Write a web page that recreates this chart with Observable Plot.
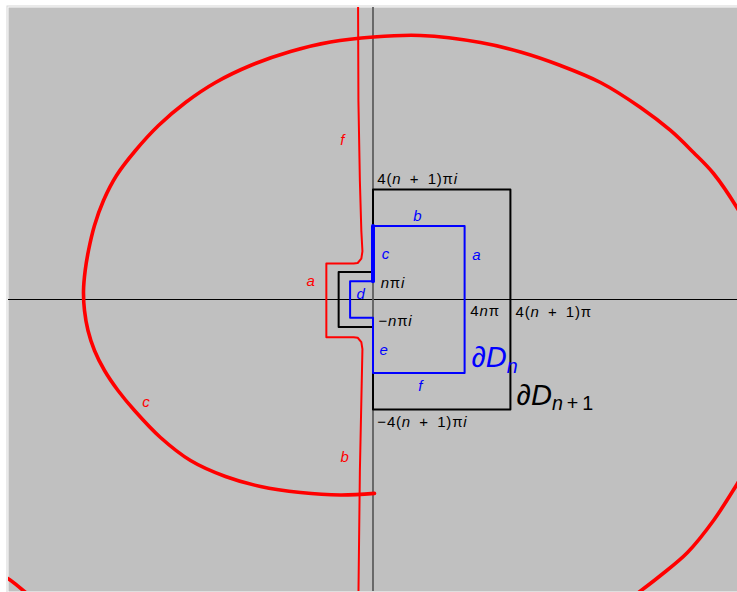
<!DOCTYPE html>
<html>
<head>
<meta charset="utf-8">
<script src="https://cdn.jsdelivr.net/npm/d3@7"></script>
<script src="https://cdn.jsdelivr.net/npm/@observablehq/plot@0.6"></script>
<style>
  body { margin: 0; background: #fff; }
  #chart svg { display: block; }
</style>
</head>
<body>
<div id="chart"></div>
<script>
const PI = Math.PI;
const n = 2;

// Contours ∂D_n and ∂D_{n+1} (corner values in multiples of π)
const dnOuter = 4 * n;         // ±4nπ
const dnIndent = n;            // ±nπ indentation around the origin
const dn1Outer = 4 * (n + 1);  // ±4(n+1)π
const dn1Indent = n + 1;       // ±(n+1)π

const dnPath = [
  [dnOuter, -dnOuter], [dnOuter, dnOuter], [0, dnOuter], [0, dnIndent],
  [-dnIndent, dnIndent], [-dnIndent, -dnIndent], [0, -dnIndent], [0, -dnOuter], [dnOuter, -dnOuter]
];
const dnSideC = [[0, dnOuter], [0, dnIndent]];
const dn1Path = [
  [dn1Outer, -dn1Outer], [dn1Outer, dn1Outer], [0, dn1Outer], [0, dn1Indent],
  [-dn1Indent, dn1Indent], [-dn1Indent, -dn1Indent], [0, -dn1Indent], [0, -dn1Outer], [dn1Outer, -dn1Outer]
];

// Image of side c (large loop) and its continuation
const imageC = [
  [0.41, -66.4], [-8.92, -66.95], [-19.89, -66.10], [-30.86, -64.04], [-40.47, -60.62],
  [-50.07, -55.14], [-58.30, -47.26], [-65.43, -38.01], [-69.96, -31.16], [-73.66, -24.32],
  [-76.41, -17.47], [-78.19, -10.62], [-79.15, -3.77], [-79.42, 3.08], [-78.96, 9.93],
  [-78.05, 16.78], [-76.41, 25.34], [-73.94, 33.90], [-70.37, 42.47], [-65.16, 51.03],
  [-58.85, 59.59], [-51.44, 67.47], [-43.21, 74.32], [-33.61, 80.14], [-22.63, 84.93],
  [-11.66, 88.18], [0.14, 89.90], [13.03, 90.41], [29.49, 88.01], [40.47, 84.76],
  [51.44, 80.14], [62.41, 74.32], [73.39, 65.75], [81.62, 57.88], [87.93, 50.34],
  [93.42, 43.15], [100.0, 31.16], [106.31, 16.78]
];
const imageCRight = [[106.3, -50.0], [100, -63.0], [93.42, -75.68], [86.28, -86.64], [78.88, -94.52], [72.84, -100.34], [67.9, -104.8]];
const imageCLeft = [[-105.2, -92.8], [-100.3, -95.5], [-95.3, -100.3], [-91.5, -104]];

// Image of sides f, a, b (near-vertical line with a bracket round the origin)
const imageFAB = [
  [-4.1, 102], [-4.0, 68.1], [-3.6, 40.6], [-3.2, 23.5], [-2.9, 16.5], [-3.2, 14.0], [-4.2, 12.5],
  [-5.3, 12.3], [-12.8, 12.3], [-12.8, -12.9], [-5.3, -12.9], [-4.2, -13.1], [-3.2, -14.6],
  [-2.9, -17], [-3.2, -34.8], [-3.6, -58.8], [-4.0, -102]
];

// Side names on ∂D_n
const sideNames = ["b", "a", "c", "d", "e", "f"];
const sideX = [12.2, 28.4, 3.4, -3.4, 2.9, 13.0];
const sideY = [28.6, 15.3, 15.6, 1.9, -17.3, -29.7];

// Names of the image curves
const imageNames = ["f", "a", "c", "b"];
const imageX = [-8.4, -17.1, -62.3, -7.8];
const imageY = [54.7, 6.3, -35.2, -54.0];

// Corner values
const cornerText = ["4(n\u2002+\u20021)πi", "nπi", "−nπi", "4nπ", "4(n\u2002+\u20021)π", "−4(n\u2002+\u20021)πi"];
const cornerX = [1.2, 2.1, 1.5, 26.7, 39.1, 1.2];
const cornerY = [41.3, 5.7, -7.4, -3.9, -4.3, -42.0];

// Contour names
const contourText = ["∂D_n", "∂D_n\u2009+\u20091"];
const contourX = [27.0, 39.4];
const contourY = [-20.1, -32.8];
const contourColor = ["#0000ff", "#000000"];

const pi = (pts) => pts.map(([a, b]) => [a * PI, b * PI]);
const table = (t, xs, ys) => t.map((s, i) => ({s, x: xs[i], y: ys[i]}));

const plot = Plot.plot({
  width: 737,
  height: 592,
  marginLeft: 8,
  marginRight: 0,
  marginTop: 7,
  marginBottom: 1,
  x: {domain: [-100, 100], axis: null},
  y: {domain: [-100, 100], axis: null},
  style: {fontFamily: "'Liberation Sans', Arial, Helvetica, sans-serif", background: "#fff"},
  marks: [
    Plot.frame({stroke: "#d6d6d6", strokeWidth: 1, inset: -1.5}),
    Plot.frame({fill: "#c0c0c0", stroke: "none"}),
    Plot.ruleY([0], {stroke: "#000", strokeWidth: 1}),
    Plot.ruleX([0], {stroke: "#5f5f5f", strokeWidth: 1.8}),
    Plot.line(imageFAB, {x: d => d[0], y: d => d[1], stroke: "#ff0000", strokeWidth: 2, clip: true}),
    Plot.line(imageC, {x: d => d[0], y: d => d[1], stroke: "#ff0000", strokeWidth: 3.6, curve: "catmull-rom", clip: true}),
    Plot.line(imageCRight, {x: d => d[0], y: d => d[1], stroke: "#ff0000", strokeWidth: 3.6, curve: "catmull-rom", clip: true}),
    Plot.line(imageCLeft, {x: d => d[0], y: d => d[1], stroke: "#ff0000", strokeWidth: 3.6, curve: "catmull-rom", clip: true}),
    Plot.line(pi(dn1Path), {x: d => d[0], y: d => d[1], stroke: "#000", strokeWidth: 2}),
    Plot.line(pi(dnPath), {x: d => d[0], y: d => d[1], stroke: "#0000ff", strokeWidth: 2}),
    Plot.line(pi(dnSideC), {x: d => d[0], y: d => d[1], stroke: "#0000ff", strokeWidth: 4}),
    Plot.text(table(sideNames, sideX, sideY), {x: "x", y: "y", text: "s", fill: "#0000ff", fontSize: 15, fontStyle: "italic"}),
    Plot.text(table(imageNames, imageX, imageY), {x: "x", y: "y", text: "s", fill: "#ff0000", fontSize: 15, fontStyle: "italic"}),
    Plot.text(table(cornerText, cornerX, cornerY), {x: "x", y: "y", text: "s", fill: "#000", fontSize: 15, textAnchor: "start"}),
    Plot.text(table(contourText, contourX, contourY), {x: "x", y: "y", text: "s", fill: (d, i) => contourColor[i], fontSize: 29, textAnchor: "start"})
  ]
});

// Math-style typesetting: Latin letters italic, "_" starts a subscript
const svgNS = "http://www.w3.org/2000/svg";
function runs(parent, str) {
  for (const m of str.matchAll(/([A-Za-z]+)|([^A-Za-z]+)/g)) {
    const ts = document.createElementNS(svgNS, "tspan");
    ts.setAttribute("font-style", m[1] ? "italic" : "normal");
    ts.textContent = m[0];
    parent.appendChild(ts);
  }
}
plot.querySelectorAll("text").forEach((t) => {
  const s = t.textContent;
  if (s.length < 2) return;
  t.textContent = "";
  const [main, sub] = s.split("_");
  runs(t, main);
  if (sub) {
    const ts = document.createElementNS(svgNS, "tspan");
    ts.setAttribute("font-size", "0.68em");
    ts.setAttribute("dy", "0.28em");
    runs(ts, sub);
    t.appendChild(ts);
  } else {
    t.setAttribute("letter-spacing", "0.8");
  }
});

document.getElementById("chart").appendChild(plot);
</script>
</body>
</html>
